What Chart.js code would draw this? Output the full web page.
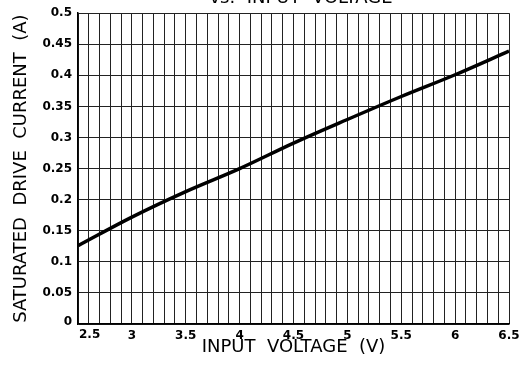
<!DOCTYPE html>
<html>
<head>
<meta charset="utf-8">
<script src="https://cdn.jsdelivr.net/npm/chart.js@4/dist/chart.umd.min.js"></script>
<style>
  html, body { margin: 0; padding: 0; background: #fff; }
  #wrap { width: 528px; height: 377px; }
</style>
</head>
<body>
<div id="wrap"><canvas id="chartCorrente"></canvas></div>
<script>
// input voltage (V) and saturated drive current (A)
const tensao = [2.5, 3.0, 3.5, 4.0, 4.5, 5.0, 5.5, 6.0, 6.5];
const corrente = [0.126, 0.172, 0.213, 0.250, 0.291, 0.329, 0.366, 0.401, 0.439];
const ticksX = [2.5, 3, 3.5, 4, 4.5, 5, 5.5, 6, 6.5];
const titulo = 'vs.  INPUT  VOLTAGE';

const fonteTexto = '"DejaVu Sans", sans-serif';
const fonteTick = { family: fonteTexto, size: 12, weight: 'bold' };

// the "0" and "2.5" corner labels sit nudged off the corner, drawn here
const rotulosCanto = {
  id: 'rotulosCanto',
  afterDraw(chart) {
    const { ctx, scales: { x, y } } = chart;
    ctx.save();
    ctx.fillStyle = '#000';
    ctx.font = 'bold 12px ' + fonteTexto;
    ctx.textAlign = 'right';
    ctx.textBaseline = 'alphabetic';
    ctx.fillText('0', x.left - 6, y.getPixelForValue(0) + 1);
    ctx.textAlign = 'left';
    ctx.textBaseline = 'top';
    ctx.fillText(String(ticksX[0]), x.getPixelForValue(ticksX[0]) + 1, y.bottom + 5);
    // second title line, mostly off the top edge
    ctx.font = '18px ' + fonteTexto;
    ctx.textAlign = 'center';
    ctx.textBaseline = 'alphabetic';
    ctx.fillText(titulo, 301, 3);
    ctx.restore();
  }
};

new Chart(document.getElementById('chartCorrente'), {
  type: 'line',
  data: {
    datasets: [{
      data: tensao.map((v, i) => ({ x: v, y: corrente[i] })),
      borderColor: '#000',
      borderWidth: 3.5,
      pointRadius: 0,
      cubicInterpolationMode: 'monotone',
      fill: false
    }]
  },
  options: {
    responsive: true,
    maintainAspectRatio: false,
    animation: false,
    layout: { padding: { left: 0, right: 19, top: 11, bottom: 0 } },
    plugins: { legend: { display: false }, tooltip: { enabled: false } },
    scales: {
      x: {
        type: 'linear',
        min: 2.5,
        max: 6.5,
        afterFit: (s) => { s.height = 53; },
        ticks: {
          stepSize: 0.1,
          autoSkip: false,
          maxRotation: 0,
          padding: 5,
          color: '#000',
          font: fonteTick,
          callback: (v) => {
            const d = Math.round(v * 10);
            if (d % 5 !== 0 || d === 25) return '';
            return String(d / 10);
          }
        },
        grid: { color: '#222', lineWidth: 1, drawTicks: false },
        border: { color: '#000', width: 1.5 },
        title: {
          display: true,
          text: 'INPUT  VOLTAGE  (V)',
          color: '#000',
          font: { family: fonteTexto, size: 18 },
          padding: { top: 0, bottom: 19 }
        }
      },
      y: {
        min: 0,
        max: 0.5,
        afterFit: (s) => { s.width = 78; },
        ticks: {
          stepSize: 0.05,
          padding: 6,
          color: '#000',
          font: fonteTick,
          callback: (v) => {
            const r = Math.round(v * 100) / 100;
            return r === 0 ? '' : String(r);
          }
        },
        grid: { color: '#222', lineWidth: 1, drawTicks: false },
        border: { color: '#000', width: 1.5 },
        title: {
          display: true,
          text: 'SATURATED  DRIVE  CURRENT  (A)',
          color: '#000',
          font: { family: fonteTexto, size: 18 },
          padding: { top: 10.5, bottom: 0 }
        }
      }
    }
  },
  plugins: [rotulosCanto]
});
</script>
</body>
</html>
